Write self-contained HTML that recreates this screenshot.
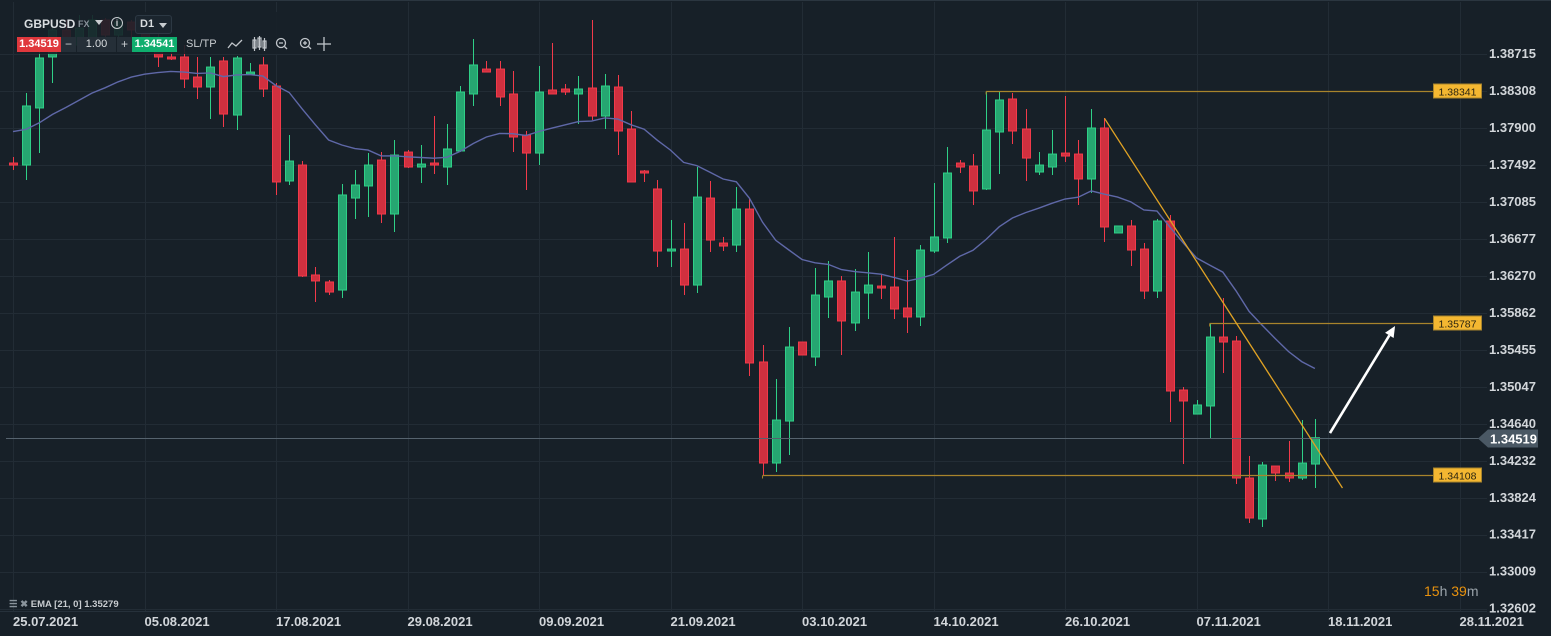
<!DOCTYPE html>
<html><head><meta charset="utf-8">
<style>
html,body{margin:0;padding:0;background:#172028;}
body{width:1551px;height:636px;overflow:hidden;position:relative;font-family:"Liberation Sans",sans-serif;}
svg{position:absolute;left:0;top:0;}
text{font-family:"Liberation Sans",sans-serif;}
</style></head>
<body>
<svg id="chart" width="1551" height="636" viewBox="0 0 1551 636" xmlns="http://www.w3.org/2000/svg">
  <rect x="0" y="0" width="1551" height="636" fill="#172028"/>
  <line x1="100" y1="0.5" x2="1551" y2="0.5" stroke="#2b3640" stroke-width="1"/>
  <g id="grid"></g>
  <g id="yaxis"></g>
  <g id="xaxis"></g>
  <g id="plot" clip-path="url(#plotclip)"></g>
  <defs><clipPath id="plotclip"><rect x="0" y="6" width="1487" height="606"/></clipPath></defs>
  <g id="drawings"></g>
</svg>

<!-- toolbar overlay -->
<div style="position:absolute;left:14px;top:12px;width:332px;height:42px;background:rgba(23,32,40,0.9);"></div>
<div style="position:absolute;left:24px;top:17px;color:#d9dde0;font-weight:bold;font-size:12px;">GBPUSD</div>
<div style="position:absolute;left:78px;top:19px;color:#8a949c;font-weight:bold;font-size:9px;">FX</div>
<div style="position:absolute;left:95px;top:20px;width:0;height:0;border-left:4px solid transparent;border-right:4px solid transparent;border-top:5px solid #c8ccd0;"></div>
<div style="position:absolute;left:111px;top:17px;width:10px;height:10px;border:1.3px solid #c8ccd0;border-radius:50%;color:#c8ccd0;font-size:9px;line-height:10px;text-align:center;font-weight:bold;">i</div>
<div style="position:absolute;left:135px;top:15px;width:35px;height:17px;border:1px solid #2c3843;border-radius:3px;background:#1b252e;">
  <span style="position:absolute;left:4px;top:2px;color:#d9dde0;font-size:11px;font-weight:bold;">D1</span>
  <span style="position:absolute;left:23px;top:7px;width:0;height:0;border-left:4px solid transparent;border-right:4px solid transparent;border-top:5px solid #c8ccd0;"></span>
</div>
<div style="position:absolute;left:17px;top:37px;width:44px;height:15px;background:#e0383d;color:#fff;font-size:11px;font-weight:bold;text-align:center;line-height:15px;">1.34519</div>
<div style="position:absolute;left:61px;top:37px;width:15px;height:15px;background:#252f38;color:#c8ccd0;font-size:12px;text-align:center;line-height:15px;">−</div>
<div style="position:absolute;left:77px;top:37px;width:39px;height:15px;background:#252f38;color:#d9dde0;font-size:11px;text-align:center;line-height:15px;">1.00</div>
<div style="position:absolute;left:117px;top:37px;width:15px;height:15px;background:#252f38;color:#c8ccd0;font-size:12px;text-align:center;line-height:15px;">+</div>
<div style="position:absolute;left:132px;top:37px;width:45px;height:15px;background:#0fae6e;color:#fff;font-size:11px;font-weight:bold;text-align:center;line-height:15px;">1.34541</div>
<div style="position:absolute;left:186px;top:38px;color:#c8ccd0;font-size:11px;">SL/TP</div>
<svg style="position:absolute;left:225px;top:35px;" width="120" height="20">
  <polyline points="3,13 7,8 11,11 17,5" fill="none" stroke="#c0c5ca" stroke-width="1.3"/>
  <g stroke="#c0c5ca" stroke-width="1.2" fill="none"><rect x="28" y="5" width="3" height="8"/><rect x="33" y="3" width="3" height="9"/><rect x="38" y="6" width="3" height="7"/><line x1="29.5" y1="2" x2="29.5" y2="16"/><line x1="34.5" y1="1" x2="34.5" y2="15"/><line x1="39.5" y1="3" x2="39.5" y2="16"/></g>
  <g stroke="#c0c5ca" stroke-width="1.3" fill="none"><circle cx="56" cy="8" r="4.5"/><line x1="54" y1="8" x2="58" y2="8"/><line x1="59.5" y1="11.5" x2="62" y2="14"/></g>
  <g stroke="#c0c5ca" stroke-width="1.3" fill="none"><circle cx="80" cy="8" r="4.5"/><line x1="78" y1="8" x2="82" y2="8"/><line x1="80" y1="6" x2="80" y2="10"/><line x1="83.5" y1="11.5" x2="86" y2="14"/></g>
  <g stroke="#c0c5ca" stroke-width="1.3" fill="none"><line x1="99" y1="2" x2="99" y2="16"/><line x1="92" y1="9" x2="106" y2="9"/></g>
</svg>

<div style="position:absolute;left:9px;top:599px;color:#c8ccd0;font-size:9.5px;font-weight:bold;"><span style="color:#8a949c;">☰ ✖</span> EMA [21, 0] 1.35279</div>
<div style="position:absolute;left:1424px;top:583px;font-size:14px;color:#9aa3aa;"><span style="color:#e8920e;">15</span>h <span style="color:#e8920e;">39</span>m</div>

<script>
// ---- data ----
const dateLabels = ["25.07.2021","05.08.2021","17.08.2021","29.08.2021","09.09.2021","21.09.2021","03.10.2021","14.10.2021","26.10.2021","07.11.2021","18.11.2021","28.11.2021"];
const priceTicks = [1.38715,1.38308,1.37900,1.37492,1.37085,1.36677,1.36270,1.35862,1.35455,1.35047,1.34640,1.34232,1.33824,1.33417,1.33009,1.32602];
const opens = [
1.37547,1.37525,1.38154,1.38716,1.39013,1.38848,1.38848,1.39124,1.38958,1.39101,
1.39013,1.38848,1.38716,1.38716,1.38495,1.38385,1.38672,1.38076,1.38528,1.38628,
1.38396,1.37349,1.37525,1.36313,1.36236,1.36147,1.37161,1.37294,1.37580,1.36985,
1.37668,1.37503,1.37547,1.37503,1.37680,1.38308,1.38583,1.38583,1.38308,1.37856,
1.37657,1.38352,1.38363,1.38308,1.38374,1.38065,1.38385,1.37922,1.37459,1.37261,
1.36577,1.36599,1.36202,1.37161,1.36665,1.36643,1.37040,1.35354,1.34240,1.34703,
1.35574,1.35409,1.36070,1.36247,1.35784,1.36114,1.36191,1.36180,1.35949,1.35850,
1.36577,1.36721,1.37547,1.37514,1.37261,1.37889,1.38253,1.37922,1.37448,1.37503,
1.37657,1.37646,1.37371,1.37933,1.36776,1.36853,1.36599,1.36136,1.36908,1.35045,
1.34780,1.34869,1.35629,1.35585,1.34075,1.33623,1.34207,1.34130,1.34075,1.34229];
const closes = [
1.37525,1.38176,1.38705,1.39013,1.38903,1.39035,1.39124,1.38958,1.39101,1.39013,
1.38848,1.38716,1.38694,1.38473,1.38385,1.38605,1.38087,1.38705,1.38550,1.38363,
1.37338,1.37569,1.36302,1.36247,1.36125,1.37195,1.37305,1.37525,1.36985,1.37635,
1.37503,1.37536,1.37525,1.37702,1.38330,1.38628,1.38550,1.38275,1.37834,1.37657,
1.38330,1.38308,1.38330,1.38363,1.38065,1.38396,1.37900,1.37338,1.37437,1.36577,
1.36599,1.36202,1.37172,1.36698,1.36632,1.37040,1.35343,1.34240,1.34714,1.35519,
1.35431,1.36092,1.36247,1.35806,1.36125,1.36202,1.36169,1.35938,1.35850,1.36588,
1.36732,1.37437,1.37503,1.37239,1.37911,1.38242,1.37900,1.37602,1.37525,1.37646,
1.37624,1.37371,1.37933,1.36842,1.36853,1.36588,1.36136,1.36908,1.35034,1.34924,
1.34880,1.35629,1.35574,1.34075,1.33634,1.34218,1.34130,1.34075,1.34240,1.34519];
const highs = [
1.37613,1.38319,1.38848,1.39068,1.39124,1.39179,1.39179,1.39146,1.39168,1.39124,
1.39146,1.39013,1.38903,1.38848,1.38716,1.38716,1.38716,1.38727,1.38650,1.38716,
1.38429,1.37856,1.37569,1.36401,1.36258,1.37316,1.37470,1.37657,1.37668,1.37801,
1.37691,1.37746,1.38065,1.37977,1.38396,1.38914,1.38672,1.38672,1.38561,1.37900,
1.38616,1.38870,1.38418,1.38506,1.39124,1.38528,1.38517,1.38120,1.37470,1.37360,
1.36919,1.36886,1.37503,1.37349,1.36732,1.37283,1.37161,1.35541,1.35166,1.35739,
1.35574,1.36390,1.36467,1.36302,1.36379,1.36566,1.36313,1.36732,1.36368,1.36643,
1.37327,1.37724,1.37580,1.37646,1.38330,1.38341,1.38319,1.38142,1.37668,1.37911,
1.38286,1.37801,1.38142,1.38043,1.36853,1.36919,1.36665,1.36930,1.36974,1.35078,
1.34935,1.35784,1.36059,1.35640,1.34318,1.34251,1.34207,1.34483,1.34714,1.34725];
const lows = [
1.37470,1.37360,1.37657,1.38429,1.38793,1.38793,1.38815,1.38903,1.38848,1.38903,
1.38793,1.38605,1.38683,1.38374,1.38253,1.38032,1.37944,1.37911,1.38517,1.38275,
1.37195,1.37305,1.36291,1.36015,1.36092,1.36059,1.36930,1.36952,1.36886,1.36787,
1.37492,1.37327,1.37426,1.37305,1.37668,1.38176,1.38550,1.38176,1.37668,1.37250,
1.37525,1.38308,1.38297,1.37977,1.38021,1.37922,1.37635,1.37338,1.37338,1.36401,
1.36401,1.36092,1.36114,1.36566,1.36577,1.36566,1.35199,1.34108,1.34141,1.34329,
1.35431,1.35310,1.35839,1.35431,1.35695,1.35828,1.36048,1.35828,1.35673,1.35751,
1.36555,1.36665,1.37437,1.37084,1.37250,1.37426,1.37757,1.37349,1.37415,1.37415,
1.37558,1.37084,1.37217,1.36676,1.36776,1.36412,1.36048,1.36059,1.34692,1.34229,
1.34780,1.34505,1.35232,1.34009,1.33579,1.33535,1.34042,1.34031,1.34053,1.33965];
const emaPeriod = 21;
const emaSeed = 1.3793;
const levelPrices = [1.38341, 1.35787, 1.34108];
const levelStarts = [74, 91, 57];
const trendStart = [83, 1.3804];
const trendEnd = [101.1, 1.33965];
const arrowStart = [100.15, 1.34571];
const arrowEnd = [105.1, 1.35751];
const currentPrice = 1.34519;

// ---- axes ----
const X0 = 13, DX = 13.15;
const P0 = 1.38341, Y0 = 91, PY = 9072;
function xs(i){ return X0 + DX * i; }
function ys(p){ return Y0 + (P0 - p) * PY; }

const NS = "http://www.w3.org/2000/svg";
function mk(tag, attrs, parent){
  const e = document.createElementNS(NS, tag);
  for (const k in attrs) e.setAttribute(k, attrs[k]);
  parent.appendChild(e);
  return e;
}
const grid = document.getElementById('grid');
const yaxis = document.getElementById('yaxis');
const xaxis = document.getElementById('xaxis');
const plot = document.getElementById('plot');
const drw = document.getElementById('drawings');

priceTicks.forEach(function(p){
  const y = Math.round(ys(p) - 3) + 0.5;
  const gl = mk('line', {x1:0, y1:y, x2:1487, y2:y, stroke:'#222c35', 'stroke-width':1}, grid);
  
  
  const t = mk('text', {x:1489, y:ys(p)+1, fill:'#d2d6da', 'font-size':13, 'font-weight':'bold'}, yaxis);
  t.textContent = p.toFixed(5);
  
  
});
dateLabels.forEach(function(d, k){
  const x = Math.round(xs(k*10)) + 0.5;
  const gl = mk('line', {x1:x, y1:2, x2:x, y2:612, stroke:'#222c35', 'stroke-width':1}, grid);
  
  
  const t = mk('text', {x:xs(k*10), y:626, fill:'#d2d6da', 'font-size':13, 'font-weight':'bold'}, xaxis);
  t.textContent = d;
  
  
});
const sep = mk('line', {x1:0, y1:611.5, x2:1487, y2:611.5, stroke:'#26313b', 'stroke-width':1}, grid);



// ---- candles ----
for (let i = 0; i < opens.length; i++){
  const up = closes[i] >= opens[i];
  const fill = up ? '#26a671' : '#d0303f';
  const stroke = up ? '#2fcf87' : '#f23a4a';
  const cx = Math.round(xs(i)) + 0.5;
  const w = mk('line', {x1:cx, y1:ys(highs[i]), x2:cx, y2:ys(lows[i]), stroke:stroke, 'stroke-width':1}, plot);
  
  
  const top = ys(Math.max(opens[i], closes[i]));
  const bot = ys(Math.min(opens[i], closes[i]));
  const b = mk('rect', {x:cx-4, y:top, width:8, height:Math.max(bot-top, 1.5), fill:fill, stroke:stroke, 'stroke-width':1}, plot);
  
  
}

// ---- EMA ----
let ema = emaSeed, pts = [];
const kk = 2 / (emaPeriod + 1);
for (let i = 0; i < closes.length; i++){
  ema = closes[i] * kk + ema * (1 - kk);
  pts.push(xs(i).toFixed(1) + ',' + ys(ema).toFixed(1));
}
const emaLine = mk('polyline', {points:pts.join(' '), fill:'none', stroke:'#5f68a8', 'stroke-width':1.4}, plot);



// ---- current price line ----
const cy = Math.round(ys(currentPrice)) + 0.5;
const cpl = mk('line', {x1:6, y1:cy, x2:1480, y2:cy, stroke:'#56636e', 'stroke-width':1}, drw);


const cpt = mk('polygon', {points:'1478,'+cy+' 1488,'+(cy-9)+' 1538,'+(cy-9)+' 1538,'+(cy+9)+' 1488,'+(cy+9), fill:'#4a5864'}, drw);


const cptt = mk('text', {x:1490, y:cy+5, fill:'#ffffff', 'font-size':13, 'font-weight':'bold'}, drw);
cptt.textContent = currentPrice.toFixed(5);



// ---- horizontal levels ----
levelPrices.forEach(function(p, k){
  const y = Math.round(ys(p)) + 0.5;
  const l = mk('line', {x1:xs(levelStarts[k]), y1:y, x2:1434, y2:y, stroke:'#a8842c', 'stroke-width':1.3}, drw);
  
  
  const tick = mk('line', {x1:xs(levelStarts[k]), y1:y, x2:xs(levelStarts[k]), y2:y+3, stroke:'#a8842c', 'stroke-width':1}, drw);
  
  
  const r = mk('rect', {x:1433.5, y:y-7.5, width:48, height:14, fill:'#f4b731', stroke:'#a8842c', 'stroke-width':1}, drw);
  
  
  const t = mk('text', {x:1457.5, y:y+4, fill:'#2a2410', 'font-size':10.5, 'text-anchor':'middle'}, drw);
  t.textContent = p.toFixed(5);
  
  
});

// ---- trend line ----
const tl = mk('line', {x1:xs(trendStart[0]), y1:ys(trendStart[1]), x2:xs(trendEnd[0]), y2:ys(trendEnd[1]), stroke:'#e0a224', 'stroke-width':1.3}, drw);



// ---- arrow ----
const ax1 = xs(arrowStart[0]), ay1 = ys(arrowStart[1]), ax2 = xs(arrowEnd[0]), ay2 = ys(arrowEnd[1]);
const ang = Math.atan2(ay2-ay1, ax2-ax1);
const bx = ax2 - 11*Math.cos(ang), by = ay2 - 11*Math.sin(ang);
const ar = mk('line', {x1:ax1, y1:ay1, x2:bx, y2:by, stroke:'#ffffff', 'stroke-width':2.6}, drw);


const px = Math.cos(ang+Math.PI/2), py = Math.sin(ang+Math.PI/2);
const ah = mk('polygon', {points: ax2+','+ay2+' '+(bx+5*px)+','+(by+5*py)+' '+(bx-5*px)+','+(by-5*py), fill:'#ffffff'}, drw);


</script>
</body></html>
